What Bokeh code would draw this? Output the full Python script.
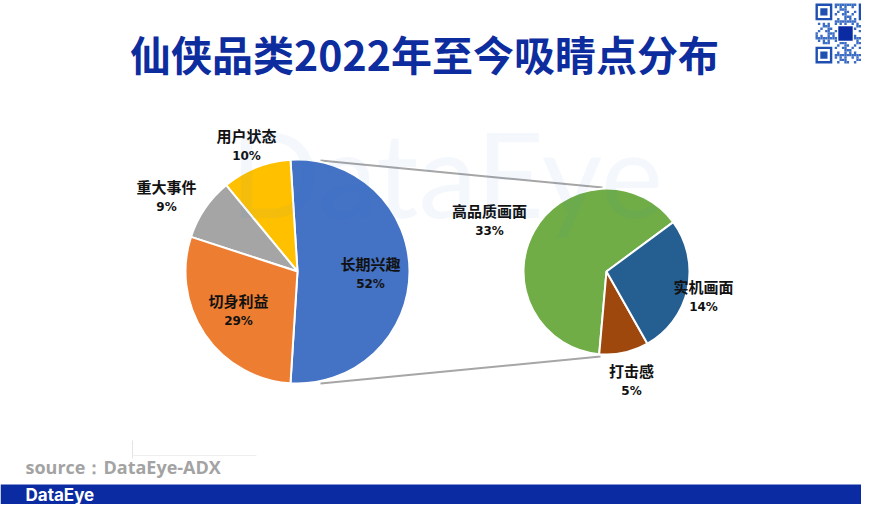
import math
from bokeh.plotting import figure
from bokeh.models import Range1d, ColumnDataSource
from bokeh.core.properties import value
from bokeh.embed import file_html
from bokeh.resources import INLINE

# ---------------- data ----------------
title_text = "仙侠品类2022年至今吸睛点分布"
main_labels = ["长期兴趣", "用户状态", "重大事件", "切身利益"]
main_values = [52, 10, 9, 29]
main_colors = ["#4472c4", "#ffc000", "#a5a5a5", "#ed7d31"]

sub_labels = ["高品质画面", "打击感", "实机画面"]
sub_values = [33, 5, 14]
sub_colors = ["#70ad47", "#9e480e", "#255e91"]

source_text = "source：DataEye-ADX"
brand_text = "DataEye"

# ---------------- layout helpers ----------------
W, H = 877, 520
def Y(y):
    return H - y

p = figure(width=861, height=504, output_backend="svg", toolbar_location=None,
           x_range=Range1d(0, 861), y_range=Range1d(16, 520),
           min_border=0, background_fill_color="white", border_fill_color="white")
p.axis.visible = False
p.grid.visible = False
p.outline_line_color = None

CJK = value("Noto Sans CJK SC")

# ---------------- title ----------------
p.text(x=[424], y=[Y(52)], text=[title_text], text_font=CJK, text_font_style="bold",
       text_font_size="41px", text_color="#0d2c9e", text_align="center", text_baseline="middle")

# ---------------- connector lines ----------------
p.line(x=[320, 602], y=[Y(160), Y(187)], line_color="#a6a6a6", line_width=2)
p.line(x=[320, 600], y=[Y(383), Y(356)], line_color="#a6a6a6", line_width=2)

# ---------------- main pie ----------------
cx1, cy1, r1 = 297, Y(271), 112
total1 = sum(main_values)
start = -math.radians(main_values[0] / total1 * 180.0)
starts, ends = [], []
for v in main_values:
    a = v / total1 * 2 * math.pi
    starts.append(start)
    ends.append(start + a)
    start += a
src1 = ColumnDataSource(dict(start=starts, end=ends, color=main_colors))
p.wedge(x=cx1, y=cy1, radius=r1, start_angle="start", end_angle="end",
        fill_color="color", line_color="white", line_width=2, source=src1)

# ---------------- sub pie ----------------
cx2, cy2, r2 = 606, Y(271), 83
total2 = sum(sub_values)
start = math.radians(36.5)
starts2, ends2 = [], []
for v in sub_values:
    a = v / total2 * 2 * math.pi
    starts2.append(start)
    ends2.append(start + a)
    start += a
src2 = ColumnDataSource(dict(start=starts2, end=ends2, color=sub_colors))
p.wedge(x=cx2, y=cy2, radius=r2, start_angle="start", end_angle="end",
        fill_color="color", line_color="white", line_width=2, source=src2)

# ---------------- labels ----------------
lab_pos_main = [(370, 263), (246, 135), (166, 186), (238, 300)]
lab_pos_sub = [(489, 210), (631, 370), (703, 286)]
names = main_labels + sub_labels
vals = main_values + sub_values
pos = lab_pos_main + lab_pos_sub
p.text(x=[q[0] for q in pos], y=[Y(q[1]) for q in pos], text=names, text_font=CJK,
       text_font_style="bold", text_font_size="15px", text_color="#111111",
       text_align="center", text_baseline="middle")
p.text(x=[q[0] for q in pos], y=[Y(q[1] + 20) for q in pos], text=[f"{v}%" for v in vals],
       text_font=value("DejaVu Sans"), text_font_style="bold", text_font_size="12px",
       text_color="#111111", text_align="center", text_baseline="middle")

# ---------------- watermark ----------------
p.text(x=[446], y=[Y(172)], text=[brand_text], text_font=value("Lato"),
       text_font_size="118px", text_color="#2b6fd6", text_alpha=0.05,
       text_align="center", text_baseline="middle")

# ---------------- faint artifacts ----------------
p.line(x=[132, 132], y=[Y(440), Y(458)], line_color="#e3e3e3", line_width=1)
p.line(x=[132, 256], y=[Y(455), Y(455)], line_color="#eeeeee", line_width=1)

# ---------------- source ----------------
p.text(x=[25], y=[Y(466)], text=[source_text], text_font=value("Open Sans"),
       text_font_style="bold", text_font_size="18px", text_color="#a3a3a3",
       text_align="left", text_baseline="middle")

# ---------------- bottom bar ----------------
p.quad(left=0, right=W, top=Y(484), bottom=Y(520), fill_color="#0a2ba1", line_color=None)
p.text(x=[25], y=[Y(494)], text=[brand_text], text_font=value("Inter"),
       text_font_style="bold", text_font_size="17px", text_color="white",
       text_align="left", text_baseline="middle")

# ---------------- QR code decoration ----------------
qx0, qy0, qs = 815, 3, 2.4
n = 25
mods_x, mods_y = [], []
for i in range(n):
    for j in range(n):
        in_finder = (i < 8 and j < 8) or (i < 8 and j >= n - 8) or (i >= n - 8 and j < 8)
        in_center = 9 <= i <= 15 and 9 <= j <= 15
        if in_finder or in_center:
            continue
        if ((i * 13 + j * 7 + i * j * 3) % 7) < 3:
            mods_x.append(qx0 + (j + 0.5) * qs)
            mods_y.append(Y(qy0 + (i + 0.5) * qs))
p.rect(x=mods_x, y=mods_y, width=qs, height=qs, fill_color="#3b6cc4", line_color=None)
for (fi, fj) in [(0, 0), (0, n - 7), (n - 7, 0)]:
    cxf = qx0 + (fj + 3.5) * qs
    cyf = Y(qy0 + (fi + 3.5) * qs)
    p.rect(x=[cxf], y=[cyf], width=7 * qs, height=7 * qs, fill_color="#1f4fb0", line_color=None)
    p.rect(x=[cxf], y=[cyf], width=5 * qs, height=5 * qs, fill_color="white", line_color=None)
    p.rect(x=[cxf], y=[cyf], width=3 * qs, height=3 * qs, fill_color="#1f4fb0", line_color=None)
p.rect(x=[qx0 + 12.5 * qs], y=[Y(qy0 + 12.5 * qs)], width=6 * qs, height=6 * qs,
       fill_color="#0a2ba1", line_color=None)

open("out.html", "w").write(file_html(p, INLINE))
